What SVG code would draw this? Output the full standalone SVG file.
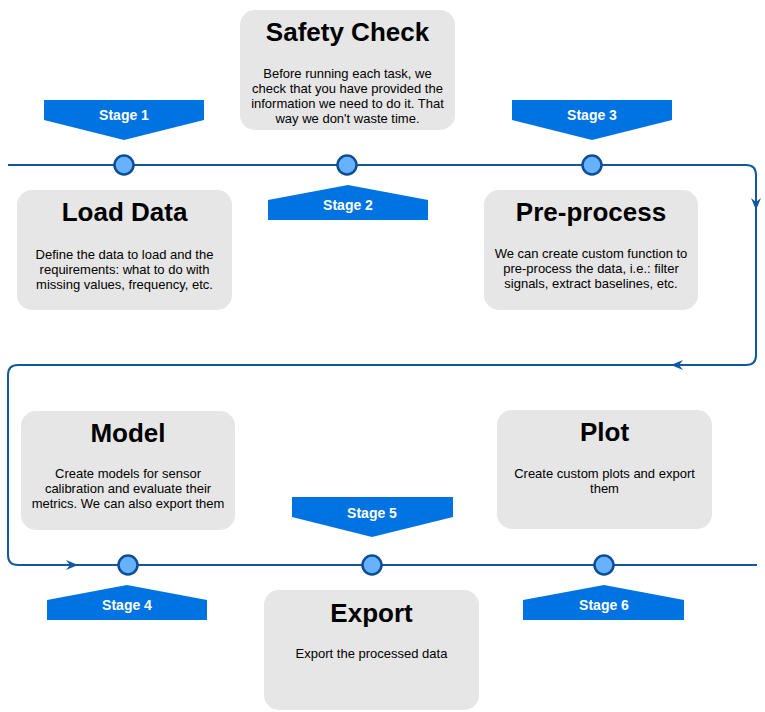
<svg xmlns="http://www.w3.org/2000/svg" width="765" height="712" viewBox="0 0 765 712">
<style>
.box{fill:#E6E6E6;stroke:none}
.title{font-family:"Liberation Sans",Arial,sans-serif;font-weight:bold;font-size:26px;fill:#000;text-anchor:middle}
.body{font-family:"Liberation Sans",Arial,sans-serif;font-size:13px;fill:#000;text-anchor:middle}
.banner{fill:#0073E3}
.stage{font-family:"Liberation Sans",Arial,sans-serif;font-weight:bold;font-size:14px;fill:#fff;text-anchor:middle}
.dot{fill:#66B2FF;stroke:#0C4F96;stroke-width:2.5}
.flow{fill:none;stroke:#11589F;stroke-width:2}
.arr{fill:#11589F}
</style>
<rect width="765" height="712" fill="#fff"/>
<g id="connectors">
<path class="flow" d="M8,165 H746 Q756,165 756,175 V355 Q756,365 746,365 H18 Q8,365 8,375 V555 Q8,565 18,565 H757"/>
<path class="arr" d="M751,198 L756,202 L761,198 L756,210 Z"/>
<path class="arr" d="M683,360 L679,365 L683,370 L671,365 Z"/>
<path class="arr" d="M66,560 L70,565 L66,570 L78,565 Z"/>
</g>
<g id="safety-check">
<rect class="box" x="240" y="10" width="215" height="120" rx="15"/>
<text class="title" x="347.5" y="41">Safety Check</text>
<text class="body" x="347.5" y="78">Before running each task, we</text>
<text class="body" x="347.5" y="93">check that you have provided the</text>
<text class="body" x="347.5" y="108">information we need to do it. That</text>
<text class="body" x="347.5" y="123">way we don't waste time.</text>
</g>
<g id="load-data">
<rect class="box" x="17" y="190" width="215" height="120" rx="15"/>
<text class="title" x="124.5" y="221">Load Data</text>
<text class="body" x="124.5" y="258.5">Define the data to load and the</text>
<text class="body" x="124.5" y="273.5">requirements: what to do with</text>
<text class="body" x="124.5" y="288.5">missing values, frequency, etc.</text>
</g>
<g id="pre-process">
<rect class="box" x="484" y="190" width="214" height="120" rx="15"/>
<text class="title" x="591" y="221">Pre-process</text>
<text class="body" x="591" y="258">We can create custom function to</text>
<text class="body" x="591" y="273">pre-process the data, i.e.: filter</text>
<text class="body" x="591" y="288">signals, extract baselines, etc.</text>
</g>
<g id="model">
<rect class="box" x="21" y="411" width="214" height="119" rx="15"/>
<text class="title" x="128" y="442">Model</text>
<text class="body" x="128" y="478">Create models for sensor</text>
<text class="body" x="128" y="493">calibration and evaluate their</text>
<text class="body" x="128" y="508">metrics. We can also export them</text>
</g>
<g id="plot">
<rect class="box" x="497" y="410" width="215" height="119" rx="15"/>
<text class="title" x="604.5" y="441">Plot</text>
<text class="body" x="604.5" y="478">Create custom plots and export</text>
<text class="body" x="604.5" y="493">them</text>
</g>
<g id="export">
<rect class="box" x="264" y="590" width="215" height="120" rx="15"/>
<text class="title" x="371.5" y="622">Export</text>
<text class="body" x="371.5" y="658">Export the processed data</text>
</g>
<g id="stage1">
<path class="banner" d="M44,100 H204 V120 L124,140 L44,120 Z"/>
<text class="stage" x="124" y="120">Stage 1</text>
<circle class="dot" cx="124" cy="165" r="9.5"/>
</g>
<g id="stage2">
<path class="banner" d="M268,220 H428 V200 L348,185 L268,200 Z"/>
<text class="stage" x="348" y="210">Stage 2</text>
<circle class="dot" cx="347" cy="165" r="9.5"/>
</g>
<g id="stage3">
<path class="banner" d="M512,100 H672 V120 L592,140 L512,120 Z"/>
<text class="stage" x="592" y="120">Stage 3</text>
<circle class="dot" cx="592" cy="165" r="9.5"/>
</g>
<g id="stage4">
<path class="banner" d="M47,620 H207 V600 L127,585 L47,600 Z"/>
<text class="stage" x="127" y="610">Stage 4</text>
<circle class="dot" cx="128" cy="565" r="9.5"/>
</g>
<g id="stage5">
<path class="banner" d="M292,497 H453 V517 L372,537 L292,517 Z"/>
<text class="stage" x="372" y="518">Stage 5</text>
<circle class="dot" cx="372" cy="565" r="9.5"/>
</g>
<g id="stage6">
<path class="banner" d="M523,620 H684 V600 L604,585 L523,600 Z"/>
<text class="stage" x="604" y="610">Stage 6</text>
<circle class="dot" cx="604" cy="565" r="9.5"/>
</g>
</svg>
